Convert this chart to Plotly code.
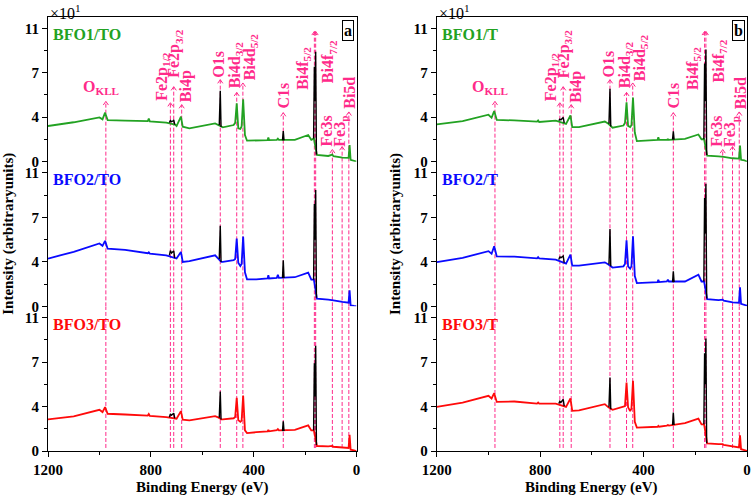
import plotly.graph_objects as go

# ---------------- data ----------------
energy = [1200, 1100, 1000, 988, 978, 968, 900, 812, 808, 804, 740, 706, 700, 683, 676, 650,
          550, 536, 526, 520, 478, 472, 466, 460, 452, 447, 441, 434, 426, 390, 346, 343, 340,
          310, 306, 302, 240, 188, 176, 166, 154, 110, 94, 90, 55, 31, 27, 23, 10, 0]

bfo1_to = [2.94, 3.25, 3.65, 3.49, 4.04, 3.43, 3.38, 3.35, 3.55, 3.33, 3.22, 3.05, 2.94, 3.71, 2.88, 2.75,
           3.16, 3.00, 2.85, 2.83, 3.02, 3.20, 4.81, 2.75, 2.70, 2.90, 5.14, 2.20, 1.73, 1.73, 1.78, 2.00, 1.78,
           1.80, 1.90, 1.80, 1.79, 2.20, 1.80, 1.90, 0.55, 0.47, 0.58, 0.45, 0.33, 0.32, 1.37, 0.15, 0.10, 0.00]
bfo2_to = [3.94, 4.50, 5.18, 4.99, 5.40, 4.75, 4.66, 4.38, 4.45, 4.35, 4.21, 3.97, 3.94, 4.49, 3.66, 3.72,
           4.21, 3.90, 3.66, 3.66, 3.80, 3.90, 5.59, 3.60, 3.33, 3.50, 5.76, 2.80, 2.23, 2.23, 2.30, 2.56, 2.30,
           2.35, 2.60, 2.35, 2.40, 2.78, 2.20, 2.20, 0.63, 0.55, 0.55, 0.50, 0.36, 0.30, 1.32, 0.08, 0.03, 0.00]
bfo3_to = [2.60, 2.85, 3.40, 3.21, 3.62, 3.07, 3.01, 2.92, 3.05, 2.90, 2.79, 2.70, 2.66, 3.29, 2.58, 2.52,
           2.88, 2.75, 2.60, 2.60, 2.70, 2.80, 4.38, 2.55, 2.40, 2.50, 4.58, 1.70, 1.48, 1.55, 1.62, 1.75, 1.62,
           1.72, 1.80, 1.70, 1.75, 2.11, 1.70, 1.70, 0.41, 0.38, 0.42, 0.35, 0.27, 0.25, 1.34, 0.11, 0.05, 0.00]
bfo1_t = [3.07, 3.35, 3.87, 3.62, 4.17, 3.45, 3.40, 3.30, 3.40, 3.27, 3.38, 3.20, 3.12, 3.81, 2.85, 2.85,
          3.31, 3.12, 2.90, 2.80, 2.98, 3.20, 4.89, 2.95, 2.85, 3.00, 5.28, 2.40, 1.69, 1.74, 1.80, 2.02, 1.80,
          1.80, 1.85, 1.80, 1.88, 2.24, 1.85, 1.85, 0.50, 0.43, 0.45, 0.40, 0.28, 0.25, 1.33, 0.15, 0.10, 0.00]
bfo2_t = [3.65, 4.00, 4.55, 4.34, 4.95, 4.12, 4.10, 3.95, 4.05, 3.95, 3.85, 3.60, 3.52, 4.26, 3.35, 3.35,
          3.63, 3.45, 3.30, 3.20, 3.30, 3.50, 5.44, 3.30, 3.10, 3.30, 5.77, 2.50, 1.92, 1.95, 2.00, 2.20, 2.00,
          2.05, 2.20, 2.05, 2.05, 2.61, 2.05, 2.05, 0.60, 0.52, 0.55, 0.47, 0.33, 0.30, 1.57, 0.20, 0.10, 0.05]
bfo3_t = [3.64, 3.98, 4.55, 4.33, 4.77, 4.05, 4.08, 3.91, 4.00, 3.90, 3.91, 3.70, 3.64, 4.33, 3.31, 3.35,
          3.86, 3.60, 3.44, 3.40, 3.66, 3.70, 5.65, 3.60, 3.30, 3.50, 5.79, 2.40, 1.93, 1.98, 2.00, 2.07, 2.00,
          2.10, 2.15, 2.10, 2.30, 2.67, 2.20, 2.20, 0.63, 0.57, 0.57, 0.50, 0.36, 0.30, 1.29, 0.15, 0.08, 0.00]

# black peak segments (O1s, C1s, Fe2p, Bi4f)
peak_energy = [534, 530, 527, None, 288, 285, 282, None, 728, 724, 720, 714, 711, 707, None,
               167, 164, 162, 159, 156]
bfo1_to_pk = [3.00, 5.85, 2.85, None, 1.76, 2.53, 1.76, None, 3.22, 3.40, 3.30, 3.35, 3.45, 3.05, None,
              1.90, 7.83, 5.00, 9.07, 0.60]
bfo2_to_pk = [3.90, 6.64, 3.66, None, 2.34, 3.80, 2.34, None, 4.21, 4.60, 4.40, 4.50, 4.57, 3.97, None,
              2.20, 8.43, 5.50, 9.59, 0.70]
bfo3_to_pk = [2.75, 4.90, 2.60, None, 1.64, 2.44, 1.64, None, 2.79, 3.05, 2.95, 3.05, 3.12, 2.70, None,
              1.70, 7.23, 4.50, 8.68, 0.50]
bfo1_t_pk = [3.12, 6.02, 2.90, None, 1.82, 2.51, 1.82, None, 3.38, 3.50, 3.45, 3.55, 3.65, 3.20, None,
             1.85, 8.09, 5.00, 9.25, 0.55]
bfo2_t_pk = [3.45, 6.37, 3.30, None, 2.00, 2.88, 2.00, None, 3.85, 4.10, 4.00, 4.10, 4.15, 3.60, None,
             2.05, 8.93, 6.00, 10.10, 0.65]
bfo3_t_pk = [3.60, 6.06, 3.44, None, 2.15, 3.17, 2.15, None, 3.91, 4.10, 4.00, 4.15, 4.25, 3.70, None,
             2.20, 8.07, 5.50, 9.28, 0.63]

peak_names = ["O<sub>KLL</sub>", "Fe2p<sub>1/2</sub>", "Fe2p<sub>3/2</sub>", "Bi4p", "O1s",
              "Bi4d<sub>3/2</sub>", "Bi4d<sub>5/2</sub>", "C1s", "Bi4f<sub>5/2</sub>",
              "Bi4f<sub>7/2</sub>", "Fe3s", "Fe3<sub>p</sub>", "Bi5d"]
peak_positions = [975, 724, 711, 680, 530, 466, 442, 285, 164, 159, 94, 56, 30]

names_a = ["BFO1/TO", "BFO2/TO", "BFO3/TO"]
names_b = ["BFO1/T", "BFO2/T", "BFO3/T"]
x_ticks = [1200, 800, 400, 0]

# ---------------- styling / placement ----------------
arrow_tip = [4.97, 4.86, 6.18, 4.70, 6.76, 5.71, 6.49, 4.04, 10.74, 10.74, 1.0, 1.24, 4.1]
label_dx = [18, 34, -5, -20, 5, 4, -28, -2, 45, -51, 24, 7, -3]
label_y = [6.10, 6.97, 8.90, 6.21, 8.08, 8.0, 8.61, 5.44, 7.72, 8.27, 2.51, 2.50, 5.65]
label_angle = [0, -90, -90, -90, -90, -90, -90, -90, -90, -90, -90, -90, -90]
CHEV_DX = 10     # half-width of the arrow chevron (eV)
CHEV_DY = 0.30   # height of the arrow chevron (y units)

SERIF = "Liberation Serif, Times New Roman, serif"
PINK = "#ff2a8a"
COLORS = ["#22a222", "#0a0aff", "#ff0a0a"]
YMAX = 11.93

fig = go.Figure()

panels = [
    (names_a, [bfo1_to, bfo2_to, bfo3_to], [bfo1_to_pk, bfo2_to_pk, bfo3_to_pk], [0, 0.4414], "a"),
    (names_b, [bfo1_t, bfo2_t, bfo3_t], [bfo1_t_pk, bfo2_t_pk, bfo3_t_pk], [0.5562, 1.0], "b"),
]
row_domains = [[2 / 3, 1.0], [1 / 3, 2 / 3], [0.0, 1 / 3]]

annotations = []
shapes = []
for p, (names, series, peaks, xdom, tag) in enumerate(panels):
    for r in range(3):
        k = p * 3 + r + 1
        xs = "x" if k == 1 else f"x{k}"
        ys = "y" if k == 1 else f"y{k}"
        fig.add_trace(go.Scatter(x=energy, y=series[r], mode="lines",
                                 line=dict(color=COLORS[r], width=1.8),
                                 xaxis=xs, yaxis=ys, showlegend=False, hoverinfo="skip"))
        fig.add_trace(go.Scatter(x=peak_energy, y=peaks[r], mode="lines",
                                 line=dict(color="black", width=1.4),
                                 xaxis=xs, yaxis=ys, showlegend=False, hoverinfo="skip",
                                 connectgaps=False))
        xa = dict(domain=xdom, range=[1200, 0], anchor=ys, showgrid=False, zeroline=False,
                  linecolor="black", linewidth=1)
        if r == 0:
            xa.update(showline=True, side="top", ticks="", showticklabels=False)
        elif r == 1:
            xa.update(showline=False, ticks="", showticklabels=False)
        else:
            xa.update(showline=True, ticks="outside", ticklen=5, tickcolor="black",
                      tickvals=x_ticks, showticklabels=True,
                      tickfont=dict(family=SERIF, size=15, color="black", weight="bold"),
                      minor=dict(dtick=200, tick0=0, ticks="outside", ticklen=3, tickcolor="black"))
        ya = dict(domain=row_domains[r], range=[0, YMAX], anchor=xs, showgrid=False, zeroline=False,
                  showline=True, mirror=True, linecolor="black", linewidth=1,
                  ticks="outside", ticklen=5, tickcolor="black", tick0=0, dtick=11 / 3,
                  tickformat=".0f",
                  tickfont=dict(family=SERIF, size=15, color="black", weight="bold"),
                  minor=dict(tick0=0, dtick=11 / 6, ticks="outside", ticklen=3, tickcolor="black"))
        fig.layout["xaxis" if k == 1 else f"xaxis{k}"] = xa
        fig.layout["yaxis" if k == 1 else f"yaxis{k}"] = ya

        # sample label
        annotations.append(dict(text=f"<b>{names[r]}</b>", xref=f"{xs} domain", yref=f"{ys} domain",
                                x=0.009, y=0.876, xanchor="left", yanchor="middle", showarrow=False,
                                font=dict(family=SERIF, size=16, color=COLORS[r])))
        # dashed marker lines
        for i, e in enumerate(peak_positions):
            if r == 0:
                y0, y1 = 0, arrow_tip[i]
            elif r == 1:
                y0, y1 = 0, YMAX
            else:
                y0, y1 = 0.25, YMAX
            shapes.append(dict(type="line", xref=xs, yref=ys, x0=e, x1=e, y0=y0, y1=y1,
                               line=dict(color=PINK, width=1, dash="4px,2px"), layer="below"))

    top_x = "x" if p == 0 else "x4"
    top_y = "y" if p == 0 else "y4"
    for i, e in enumerate(peak_positions):
        t = arrow_tip[i]
        shapes.append(dict(type="path", xref=top_x, yref=top_y,
                           path=f"M {e + CHEV_DX},{t - CHEV_DY} L {e},{t} L {e - CHEV_DX},{t - CHEV_DY}",
                           line=dict(color=PINK, width=1)))
        annotations.append(dict(text=f"<b>{peak_names[i]}</b>", x=e + label_dx[i], y=label_y[i],
                                xref=top_x, yref=top_y, showarrow=False, textangle=label_angle[i],
                                xanchor="center", yanchor="middle",
                                font=dict(family=SERIF, size=16, color=PINK)))
    # panel tag
    annotations.append(dict(text=f"<b>{tag}</b>", xref=f"{top_x} domain", yref=f"{top_y} domain",
                            x=0.993, y=0.907, xanchor="right", yanchor="middle", showarrow=False,
                            bgcolor="white", bordercolor="black", borderwidth=1, borderpad=1,
                            font=dict(family=SERIF, size=16, color="black")))
    # multiplier
    annotations.append(dict(text="×10<sup>1</sup>", xref=f"{top_x} domain", yref="paper",
                            x=0.0, y=1.012, xanchor="left", yanchor="middle", showarrow=False,
                            font=dict(family=SERIF, size=16, color="black")))
    # axis titles
    annotations.append(dict(text="<b>Intensity (arbitraryunits)</b>", xref="paper", yref="paper",
                            x=-0.0576 if p == 0 else 0.4964, y=0.5, textangle=-90,
                            xanchor="center", yanchor="middle", showarrow=False,
                            font=dict(family=SERIF, size=15, color="black")))
    bot_x = "x3" if p == 0 else "x6"
    annotations.append(dict(text="<b>Binding Energy (eV)</b>", xref=f"{bot_x} domain", yref="paper",
                            x=0.5, y=-0.083, xanchor="center", yanchor="middle", showarrow=False,
                            font=dict(family=SERIF, size=15, color="black")))

fig.update_layout(width=756, height=499, margin=dict(l=48, r=5, t=17, b=48),
                  paper_bgcolor="white", plot_bgcolor="white",
                  annotations=annotations, shapes=shapes, showlegend=False)

fig.write_html("out.html")
